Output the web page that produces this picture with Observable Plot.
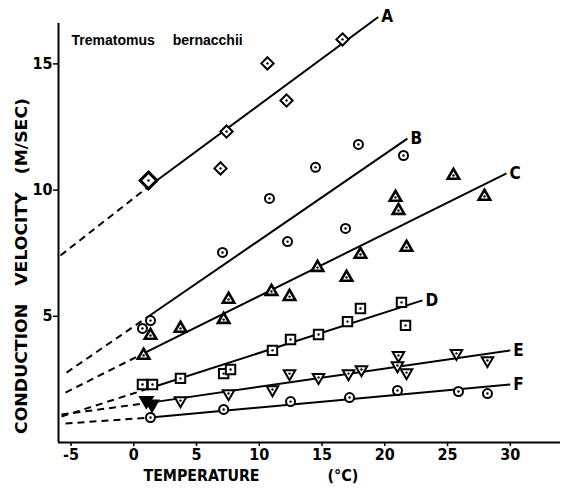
<!DOCTYPE html>
<html><head><meta charset="utf-8">
<script src="https://cdn.jsdelivr.net/npm/d3@7"></script>
<script src="https://cdn.jsdelivr.net/npm/@observablehq/plot@0.6"></script>
<style>
html,body{margin:0;padding:0;background:#fff;}
</style></head><body><div id="chart"></div>
<script>
const title = "Trematomus\u2003\u00a0bernacchii";
const xLabel = "TEMPERATURE";
const xUnit = "(°C)";
const yLabel = "CONDUCTION\u00a0\u00a0 VELOCITY\u00a0\u00a0 (M/SEC)";
const xTicks = [-5, 0, 5, 10, 15, 20, 25, 30];
const yTicks = [5, 10, 15];
const seriesNames = ["A", "B", "C", "D", "E", "F"];

// A: diamonds
const tempAbig = [1.17];
const velAbig = [10.38];
const tempA = [6.91, 7.39, 10.65, 12.17, 16.63];
const velA = [10.86, 12.32, 15.02, 13.55, 15.97];
// B: circles
const tempB = [1.33, 0.69, 7.07, 10.81, 12.25, 14.48, 17.90, 21.49, 16.87];
const velB = [4.83, 4.52, 7.53, 9.67, 7.96, 10.90, 11.81, 11.37, 8.48];
// C: triangles
const tempC = [0.78, 1.33, 3.72, 7.16, 7.55, 10.97, 12.41, 14.64, 16.95, 18.06, 21.73, 20.85, 21.09, 25.47, 27.94];
const velC = [3.45, 4.24, 4.52, 4.87, 5.67, 5.98, 5.78, 6.93, 6.54, 7.45, 7.73, 9.71, 9.19, 10.58, 9.75];
// D: squares
const tempD = [0.69, 1.49, 3.72, 7.16, 7.71, 11.05, 12.49, 14.72, 17.03, 18.06, 21.33, 21.65];
const velD = [2.30, 2.30, 2.54, 2.73, 2.89, 3.65, 4.08, 4.28, 4.79, 5.31, 5.55, 4.64];
// E: inverted triangles
const tempEfilled = [1.0, 1.45];
const velEfilled = [1.66, 1.52];
const tempE = [3.72, 7.55, 11.05, 12.41, 14.72, 17.11, 18.14, 21.09, 21.01, 21.73, 25.71, 28.18];
const velE = [1.66, 1.94, 2.10, 2.73, 2.58, 2.73, 2.89, 3.45, 3.05, 2.77, 3.53, 3.25];
// F: circles
const tempF = [1.33, 7.16, 12.49, 17.19, 21.01, 25.87, 28.18];
const velF = [0.99, 1.31, 1.62, 1.78, 2.06, 2.02, 1.94];

// regression lines: dashed extrapolation, then solid
const dashStartT = [-5.84, -5.36, -5.44, -5.76, -5.76, -5.44];
const dashStartV = [7.41, 2.77, 1.98, 1.03, 1.11, 0.75];
const solidStartT = [1.18, 1.33, 0.78, 1.50, 1.33, 1.33];
const solidStartV = [10.14, 5.05, 3.53, 2.19, 1.58, 0.99];
const lineEndT = [19.48, 21.80, 29.70, 23.00, 30.00, 30.00];
const lineEndV = [16.86, 12.04, 10.66, 5.63, 3.65, 2.30];

const pts = (ts, vs) => ts.map((t, i) => ({t, v: vs[i]}));
const A = pts(tempA, velA), Abig = pts(tempAbig, velAbig);
const B = pts(tempB, velB), C = pts(tempC, velC), D = pts(tempD, velD);
const E = pts(tempE, velE), Ef = pts(tempEfilled, velEfilled), F = pts(tempF, velF);
const openAll = [...Abig, ...A, ...B, ...C, ...D, ...E, ...F];
const idx = d3.range(seriesNames.length);

const mk = {x: "t", y: "v", stroke: "black", fill: "white", strokeWidth: 2};

const chart = Plot.plot({
  width: 564, height: 492,
  marginLeft: 58, marginRight: 4, marginTop: 23, marginBottom: 50,
  style: {fontFamily: "'Liberation Sans Narrow', 'DejaVu Sans Condensed', sans-serif", fontWeight: "bold", fontSize: "16px", color: "black", background: "white"},
  x: {domain: [-6, 34]},
  y: {domain: [0, 16.6]},
  marks: [
    Plot.ruleY([0], {stroke: "black", strokeWidth: 2}),
    Plot.ruleX([-6], {stroke: "black", strokeWidth: 2}),
    Plot.axisX({ticks: xTicks, tickFormat: d => String(d), tickSize: 4, tickPadding: 2, label: null, fontSize: 16, strokeWidth: 1.5}),
    Plot.axisY({ticks: yTicks, tickFormat: d => String(d), tickSize: 5, tickPadding: 1, label: null, fontSize: 16, strokeWidth: 1.5}),
    Plot.link(idx, {x1: i => dashStartT[i], y1: i => dashStartV[i], x2: i => solidStartT[i], y2: i => solidStartV[i], stroke: "black", strokeWidth: 2, strokeDasharray: "7,5"}),
    Plot.link(idx, {x1: i => solidStartT[i], y1: i => solidStartV[i], x2: i => lineEndT[i], y2: i => lineEndV[i], stroke: "black", strokeWidth: 2}),
    Plot.dot(Abig, {...mk, symbol: "diamond2", r: 7.5, strokeWidth: 3}),
    Plot.dot(A, {...mk, symbol: "diamond2", r: 5.5}),
    Plot.dot(B, {...mk, symbol: "circle", r: 4.5}),
    Plot.dot(F, {...mk, symbol: "circle", r: 4.5}),
    Plot.dot(C, {...mk, symbol: "triangle2", r: 5.5, strokeWidth: 2.6}),
    Plot.dot(D, {...mk, symbol: "square2", r: 6}),
    Plot.dot(E, {...mk, symbol: "triangle2", r: 5.5, rotate: 180}),
    Plot.dot(Ef, {...mk, fill: "black", symbol: "triangle2", r: 6, rotate: 180}),
    Plot.dot(openAll, {x: "t", y: "v", r: 1.2, fill: "black"}),
    Plot.text(idx, {x: i => lineEndT[i], y: i => lineEndV[i], text: i => seriesNames[i], dx: 3, textAnchor: "start", fontSize: 17}),
    Plot.text([title], {text: d => d, frameAnchor: "top-left", dx: 13, dy: 12, lineAnchor: "top", textAnchor: "start", fontFamily: "'Liberation Sans', Arial, sans-serif", fontSize: 14}),
    Plot.text([yLabel], {text: d => d, frameAnchor: "left", rotate: -90, dx: -36, dy: 33, textAnchor: "middle", lineAnchor: "middle", fontSize: 15}),
    Plot.text([xLabel], {text: d => d, frameAnchor: "bottom-left", dx: 85, dy: 38, textAnchor: "start", fontSize: 16}),
    Plot.text([xUnit], {text: d => d, frameAnchor: "bottom-left", dx: 269, dy: 38, textAnchor: "start", fontSize: 16})
  ]
});
const svg = d3.select(chart);
svg.selectAll("text").filter(function() { return this.textContent === yLabel; })
  .attr("textLength", 336).attr("lengthAdjust", "spacingAndGlyphs");
svg.selectAll("text").filter(function() { return this.textContent === xLabel; })
  .attr("textLength", 116).attr("lengthAdjust", "spacingAndGlyphs");
document.getElementById("chart").appendChild(chart);
</script>
</body></html>
